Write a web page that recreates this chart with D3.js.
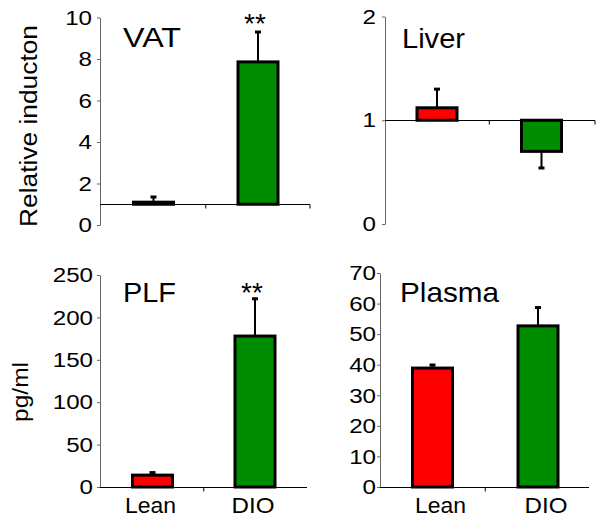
<!DOCTYPE html>
<html><head><meta charset="utf-8">
<script src="https://cdn.jsdelivr.net/npm/d3@7"></script>
<style>body{margin:0;background:#fff} svg{display:block}</style>
</head><body><svg id="c" width="601" height="524"></svg>
<script>
// ---- data ----
const categories = ["Lean", "DIO"];
const barColors = ["#ff0000", "#008c00"];
const vatMean = [1.1, 7.86], vatSem = [0.25, 1.44], vatTicks = [0, 2, 4, 6, 8, 10];
const liverMean = [1.12, 0.70], liverSem = [0.18, 0.16], liverTicks = [0, 1, 2];
const plfMean = [14, 178], plfSem = [3, 44], plfTicks = [0, 50, 100, 150, 200, 250];
const plasmaMean = [38.9, 52.7], plasmaSem = [1.0, 6.0], plasmaTicks = [0, 10, 20, 30, 40, 50, 60, 70];
const titles = ["VAT", "Liver", "PLF", "Plasma"];
const yLabels = ["Relative inducton", "pg/ml"];
const significance = ["**", "", "**", ""];

// ---- layout ----
const FONT = "'Liberation Sans', Arial, Helvetica, sans-serif";
const panels = [
  {mean: vatMean, sem: vatSem, ticks: vatTicks, base: 1, ax: 100, yr: [225, 17.5], start: 101.25, step: 104.5,
   axisEnd: 310, endTick: true, gap: 8, title: titles[0], tx: 123, ty: 47, tl: 58, star: significance[0], sy: 33, xl: false, dx: 0},
  {mean: liverMean, sem: liverSem, ticks: liverTicks, base: 1, ax: 385, yr: [224, 16.5], start: 384.75, step: 104.5,
   axisEnd: 595, endTick: true, gap: 9, title: titles[1], tx: 402, ty: 48, tl: 63, star: significance[1], sy: 0, xl: false, dx: 0},
  {mean: plfMean, sem: plfSem, ticks: plfTicks, base: 0, ax: 100, yr: [487, 275], start: 101.25, step: 102.5,
   axisEnd: 307, endTick: false, gap: 7, title: titles[2], tx: 123, ty: 302, tl: 53, star: significance[2], sy: 302, xl: true, dx: -2},
  {mean: plasmaMean, sem: plasmaSem, ticks: plasmaTicks, base: 0, ax: 380, yr: [487, 273], start: 379.75, step: 105.5,
   axisEnd: 589, endTick: false, gap: 4, title: titles[3], tx: 400, ty: 302, tl: 99, star: significance[3], sy: 0, xl: true, dx: 8}
];

const svg = d3.select("#c");
const barW = 40;

panels.forEach(p => {
  const ticks = p.ticks;
  const y = d3.scaleLinear().domain([ticks[0], ticks[ticks.length - 1]]).range(p.yr);
  const x = d3.scalePoint().domain(categories).range([p.start, p.start + 2 * p.step]).padding(0.5);
  const g = svg.append("g");

  // y axis
  const yAxis = d3.axisLeft(y).tickValues(ticks).tickFormat(d3.format("d"))
    .tickSize(3).tickSizeOuter(0).tickPadding(p.gap - 3);
  const ya = g.append("g").attr("transform", `translate(${p.ax},0)`).call(yAxis);
  ya.select(".domain").attr("stroke", "#666").attr("stroke-width", 1);
  ya.selectAll(".tick line").attr("stroke", "#666");
  const sx = 1.15;
  ya.selectAll(".tick text")
    .attr("font-family", FONT).attr("font-size", 21).attr("fill", "#000")
    .attr("x", -p.gap / sx).attr("transform", `scale(${sx},1)`);

  // x axis (crossing at baseline)
  const yb = Math.round(y(p.base)) + 0.5;
  g.append("line").attr("x1", p.ax).attr("x2", p.axisEnd).attr("y1", yb).attr("y2", yb)
    .attr("stroke", "#000").attr("stroke-width", 1);
  const mid = (x(categories[0]) + x(categories[1])) / 2;
  const tickXs = p.endTick ? [mid, p.axisEnd] : [mid];
  g.selectAll(".xt").data(tickXs).join("line")
    .attr("x1", d => d).attr("x2", d => d).attr("y1", yb).attr("y2", yb + 4)
    .attr("stroke", "#000").attr("stroke-width", 1);

  const data = categories.map((c, i) => ({c, m: p.mean[i], s: p.sem[i], col: barColors[i]}));

  // error bars (away from baseline)
  data.forEach(d => {
    const dir = d.m >= p.base ? 1 : -1;
    const yEnd = y(d.m + dir * d.s);
    const cx = x(d.c);
    g.append("line").attr("x1", cx).attr("x2", cx).attr("y1", y(d.m)).attr("y2", yEnd)
      .attr("stroke", "#000").attr("stroke-width", 2);
    g.append("line").attr("x1", cx - 3).attr("x2", cx + 3).attr("y1", yEnd).attr("y2", yEnd)
      .attr("stroke", "#000").attr("stroke-width", 3);
  });

  // bars
  g.selectAll(".bar").data(data).join("rect")
    .attr("x", d => x(d.c) - barW / 2)
    .attr("width", barW)
    .attr("y", d => Math.min(y(d.m), y(p.base)))
    .attr("height", d => Math.abs(y(d.m) - y(p.base)))
    .attr("fill", d => d.col).attr("stroke", "#000").attr("stroke-width", 3);

  // title
  g.append("text").attr("x", p.tx).attr("y", p.ty).text(p.title)
    .attr("font-family", FONT).attr("font-size", 28)
    .attr("textLength", p.tl).attr("lengthAdjust", "spacingAndGlyphs");

  // significance
  if (p.star) {
    g.append("text").attr("x", x(categories[1]) - 3).attr("y", p.sy).text(p.star)
      .attr("text-anchor", "middle").attr("font-family", FONT).attr("font-size", 28);
  }

  // x labels
  if (p.xl) {
    const lens = [51, 43];
    categories.forEach((c, i) => {
      g.append("text").attr("x", x(c) + p.dx).attr("y", 513).text(c)
        .attr("text-anchor", "middle").attr("font-family", FONT).attr("font-size", 22)
        .attr("textLength", lens[i]).attr("lengthAdjust", "spacingAndGlyphs");
    });
  }
});

// y axis titles
svg.append("text").attr("transform", "translate(37,126) rotate(-90)").text(yLabels[0])
  .attr("text-anchor", "middle").attr("font-family", FONT).attr("font-size", 23)
  .attr("textLength", 202).attr("lengthAdjust", "spacingAndGlyphs");
svg.append("text").attr("transform", "translate(28,392) rotate(-90)").text(yLabels[1])
  .attr("text-anchor", "middle").attr("font-family", FONT).attr("font-size", 22)
  .attr("textLength", 60).attr("lengthAdjust", "spacingAndGlyphs");
</script></body></html>
